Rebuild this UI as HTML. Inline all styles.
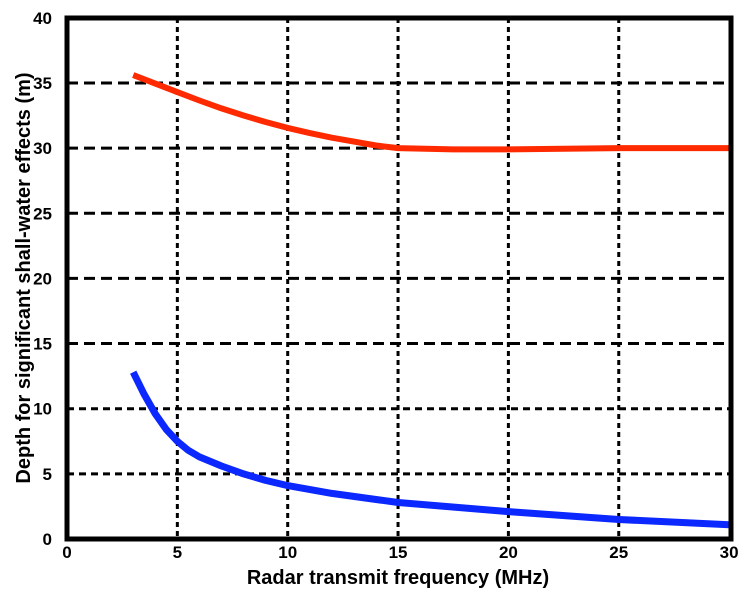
<!DOCTYPE html>
<html><head><meta charset="utf-8"><style>
html,body{margin:0;padding:0;background:#fff;}
svg{display:block;font-family:"Liberation Sans",Arial,sans-serif;font-weight:bold;}
</style></head><body>
<svg id="chart" width="746" height="597" viewBox="0 0 746 597" xmlns="http://www.w3.org/2000/svg">
<g id="grid"></g>
<g id="series"></g>
<rect x="67" y="18" width="664" height="521" fill="none" stroke="#000" stroke-width="5"/>
<g id="ticks" font-size="17"></g>
<text x="398" y="584" text-anchor="middle" font-size="20">Radar transmit frequency (MHz)</text>
<text transform="translate(30,278) rotate(-90)" text-anchor="middle" font-size="20">Depth for significant shall-water effects (m)</text>
</svg>
<script>
const xTicks=[0,5,10,15,20,25,30];
const yTicks=[0,5,10,15,20,25,30,35,40];
const redFreq=[3,4,5,6,7,8,9,10,11,12,13,14,15,17.5,20,25,30];
const redDepth=[35.6,34.95,34.3,33.65,33.05,32.5,32.0,31.55,31.15,30.8,30.5,30.2,30.0,29.9,29.9,30.0,30.0];
const blueFreq=[3,3.5,4,4.5,5,5.5,6,7,8,9,10,12,15,20,25,30];
const blueDepth=[12.8,11.1,9.6,8.4,7.5,6.8,6.3,5.6,5.0,4.5,4.1,3.5,2.8,2.1,1.5,1.1];
const X=v=>67+v*22.07;
const Y=v=>539-v*13.03;
const NS="http://www.w3.org/2000/svg";
const grid=document.getElementById('grid'),ticks=document.getElementById('ticks'),series=document.getElementById('series');
function mk(t,a){const e=document.createElementNS(NS,t);for(const k in a)e.setAttribute(k,a[k]);return e;}
xTicks.forEach(v=>{
 if(v>0&&v<30){const l=mk('line',{x1:X(v),x2:X(v),y1:18,y2:539,stroke:'#000','stroke-width':3,'stroke-dasharray':'5 4'});
 
 
 grid.appendChild(l);}
 const t=mk('text',{x:X(v),y:558,'text-anchor':'middle'});t.textContent=v;
 
 
 ticks.appendChild(t);
});
yTicks.forEach(v=>{
 if(v>0&&v<40){const l=mk('line',{x1:67,x2:731,y1:Y(v),y2:Y(v),stroke:'#000','stroke-width':3,'stroke-dasharray':v>=15?'11 6':'7 5'});
 
 
 grid.appendChild(l);}
 const t=mk('text',{x:52,y:Y(v)+6,'text-anchor':'end'});t.textContent=v;
 
 
 ticks.appendChild(t);
});
function path(xs,ys){return xs.map((x,i)=>(i?'L':'M')+X(x).toFixed(1)+' '+Y(ys[i]).toFixed(1)).join(' ');}
const r=mk('path',{d:path(redFreq,redDepth),fill:'none',stroke:'#ff2a00','stroke-width':6,'stroke-linejoin':'round'});


series.appendChild(r);
const b=mk('path',{d:path(blueFreq,blueDepth),fill:'none',stroke:'#0a28ff','stroke-width':7,'stroke-linejoin':'round'});


series.appendChild(b);
</script>
</body></html>
